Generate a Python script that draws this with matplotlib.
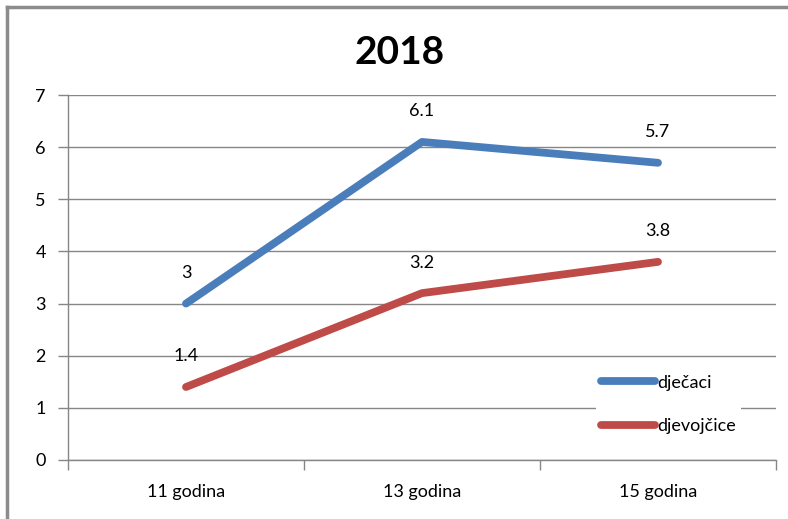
import matplotlib
matplotlib.use("Agg")
import matplotlib.pyplot as plt
from matplotlib.lines import Line2D

categories = ["11 godina", "13 godina", "15 godina"]
series_names = ["dječaci", "djevojčice"]
djecaci = [3, 6.1, 5.7]
djevojcice = [1.4, 3.2, 3.8]
colors = ["#4A7EBB", "#BE4B48"]
title = "2018"

plt.rcParams['font.family'] = ['Lato', 'DejaVu Sans']

W, H = 788, 519
fig = plt.figure(figsize=(W/100, H/100), dpi=100)
ax = fig.add_axes([68/W, 1-460/H, (776-68)/W, (460-95)/H])

LW = 5.6
x = [0.5, 1.5, 2.5]
for vals, c, name in zip([djecaci, djevojcice], colors, series_names):
    ax.plot(x, vals, color=c, lw=LW, solid_capstyle='round', solid_joinstyle='round', label=name, zorder=3)
    for xi, v in zip(x, vals):
        ax.annotate(f"{v:g}", (xi, v), xytext=(0, 22), textcoords='offset points',
                    ha='center', va='center', fontsize=13, color='black')

ax.set_xlim(0, 3)
ax.set_ylim(0, 7)
ax.set_yticks(range(0, 8))
ax.set_xticks([0, 1, 2, 3])
ax.set_xticklabels([])
ax.set_xticks(x, minor=True)
ax.set_xticklabels(categories, minor=True)
ax.tick_params(axis='x', which='minor', length=0, labelsize=13, pad=17)
ax.tick_params(axis='x', which='major', length=7, color='#868686', width=1)
ax.tick_params(axis='y', length=7, color='#868686', width=1, labelsize=13, pad=9)
ax.grid(axis='y', color='#868686', lw=1, zorder=0)
for s in ['top', 'right']:
    ax.spines[s].set_visible(False)
for s in ['left', 'bottom']:
    ax.spines[s].set_color('#868686')
    ax.spines[s].set_linewidth(1)

# legend
leg = ax.legend(loc='upper left', bbox_to_anchor=((596-68)/(776-68), (460-370)/(460-95)),
                frameon=True, fontsize=13, handlelength=3.0, handletextpad=0.15,
                labelspacing=1.55, borderpad=0.25, borderaxespad=0)
leg.get_frame().set_edgecolor('none')
leg.get_frame().set_facecolor('white')
leg.get_frame().set_alpha(1)
for h in leg.get_lines():
    h.set_linewidth(LW)
    h.set_solid_capstyle('round')

fig.text(400/W, 1-52/H, title, ha='center', va='center', fontsize=28, fontweight='bold')

# outer chart border (top and left visible)
fig.add_artist(Line2D([7/W, 7/W], [0, 1-7/H], transform=fig.transFigure, color='#8C8C8C', lw=2.5))
fig.add_artist(Line2D([7/W, 1], [1-7/H, 1-7/H], transform=fig.transFigure, color='#8C8C8C', lw=2.5))

fig.savefig("out.png", dpi=100)
